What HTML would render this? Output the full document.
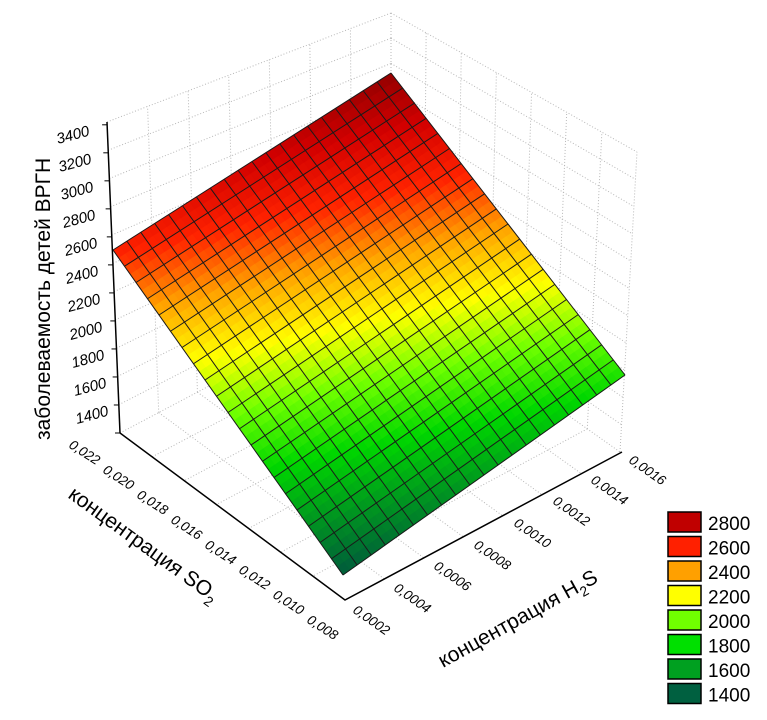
<!DOCTYPE html>
<html><head><meta charset="utf-8"><style>
body{margin:0;background:#fff;width:767px;height:720px;overflow:hidden}
svg{position:absolute;left:0;top:0}
text{font-family:"Liberation Sans",sans-serif;fill:#000}
</style></head><body>
<svg id="s" width="767" height="720" viewBox="0 0 767 720">
<g id="walls" stroke="#b8b8b8" stroke-width="1" stroke-dasharray="1,2" fill="none"></g>
<g id="surf"></g>
<g id="grid" stroke="#1a1a1a" stroke-width="1" fill="none"></g>
<g stroke="#000" stroke-width="1.5" fill="none">
<polyline points="107,122 120,433 345,600 622,452"/>
</g>
<g id="ticks" stroke="#000" stroke-width="1"></g>
<g font-size="15" font-style="italic">
<text transform="translate(58,144) rotate(-15)">3400</text>
<text transform="translate(60,172) rotate(-15)">3200</text>
<text transform="translate(62,200) rotate(-15)">3000</text>
<text transform="translate(64,228) rotate(-15)">2800</text>
<text transform="translate(66,256) rotate(-15)">2600</text>
<text transform="translate(67,284) rotate(-15)">2400</text>
<text transform="translate(69,312) rotate(-15)">2200</text>
<text transform="translate(71,340) rotate(-15)">2000</text>
<text transform="translate(73,368) rotate(-15)">1800</text>
<text transform="translate(75,396) rotate(-15)">1600</text>
<text transform="translate(77,424) rotate(-15)">1400</text>
</g>
<g font-size="13.5" font-style="italic">
<text transform="translate(68,447) rotate(33)">0,022</text>
<text transform="translate(102,472) rotate(33)">0,020</text>
<text transform="translate(136,497) rotate(33)">0,018</text>
<text transform="translate(170,522) rotate(33)">0,016</text>
<text transform="translate(204,547) rotate(33)">0,014</text>
<text transform="translate(238,572) rotate(33)">0,012</text>
<text transform="translate(272,597) rotate(33)">0,010</text>
<text transform="translate(306,622) rotate(33)">0,008</text>
</g>
<g font-size="13.5" font-style="italic">
<text transform="translate(352,612) rotate(35)">0,0002</text>
<text transform="translate(393,590) rotate(35)">0,0004</text>
<text transform="translate(433,568) rotate(35)">0,0006</text>
<text transform="translate(473,547) rotate(35)">0,0008</text>
<text transform="translate(513,525) rotate(35)">0,0010</text>
<text transform="translate(552,503) rotate(35)">0,0012</text>
<text transform="translate(590,482) rotate(35)">0,0014</text>
<text transform="translate(628,462) rotate(35)">0,0016</text>
</g>
<text font-size="21" transform="translate(50,440) rotate(-90)">заболеваемость детей ВРГН</text>
<text font-size="21" transform="translate(67,497) rotate(36)">концентрация SO<tspan font-size="14" dy="6">2</tspan></text>
<text font-size="21" transform="translate(443,668) rotate(-29)">концентрация H<tspan font-size="14" dy="6">2</tspan><tspan dy="-6">S</tspan></text>
<g id="legend" font-size="19"></g>
</svg>
<script>
var NS="http://www.w3.org/2000/svg";
function el(p,t,a){var e=document.createElementNS(NS,t);for(var k in a)e.setAttribute(k,a[k]);p.appendChild(e);return e;}
var L=[113,250],T=[391,73],B=[343,575],R=[625,375];
var VL=2620,VT=2980,VB=1400,VR=1850;
function P(u,v){return [L[0]*(1-u)*(1-v)+T[0]*u*(1-v)+B[0]*(1-u)*v+R[0]*u*v,
L[1]*(1-u)*(1-v)+T[1]*u*(1-v)+B[1]*(1-u)*v+R[1]*u*v];}
function V(u,v){return VL*(1-u)*(1-v)+VT*u*(1-v)+VB*(1-u)*v+VR*u*v;}
var stops=[[1400,[0,90,60]],[1600,[0,150,32]],[1800,[0,215,0]],[2000,[110,255,0]],[2200,[255,255,0]],[2400,[255,165,0]],[2600,[255,35,0]],[2800,[210,0,0]],[3000,[140,0,0]]];
function col(z){if(z<=stops[0][0])return stops[0][1];for(var i=1;i<stops.length;i++){if(z<=stops[i][0]){var a=stops[i-1],b=stops[i],t=(z-a[0])/(b[0]-a[0]);return [0,1,2].map(function(k){return Math.round(a[1][k]+(b[1][k]-a[1][k])*t)});}}return stops[stops.length-1][1];}
var surf=document.getElementById('surf'),N=40;
for(var i=0;i<N;i++)for(var j=0;j<N;j++){
 var u0=i/N,u1=(i+1)/N,v0=j/N,v1=(j+1)/N;
 var pts=[P(u0,v0),P(u1,v0),P(u1,v1),P(u0,v1)].map(function(p){return p[0].toFixed(1)+','+p[1].toFixed(1)}).join(' ');
 var c=col(V((u0+u1)/2,(v0+v1)/2));var cs='rgb('+c.join(',')+')';
 el(surf,'polygon',{points:pts,fill:cs,stroke:cs,'stroke-width':0.6});
}
var grid=document.getElementById('grid'),M=20;
for(var k=0;k<=M;k++){var a=P(k/M,0),b=P(k/M,1),c2=P(0,k/M),d=P(1,k/M);
 el(grid,'line',{x1:a[0],y1:a[1],x2:b[0],y2:b[1]});el(grid,'line',{x1:c2[0],y1:c2[1],x2:d[0],y2:d[1]});}
var W=document.getElementById('walls');
var A0=[120,433],A1=[107,122],C0=[391,290],C1=[391,13],D0=[620,452],D1=[637,152],F=[345,600];
function lerp(p,q,t){return [p[0]+(q[0]-p[0])*t,p[1]+(q[1]-p[1])*t];}
function ln(p,q){el(W,'line',{x1:p[0],y1:p[1],x2:q[0],y2:q[1]});}
for(var k=0;k<=11;k++){var t=k/11;ln(lerp(A0,A1,t),lerp(C0,C1,t));ln(lerp(C0,C1,t),lerp(D0,D1,t));}
for(var k=0;k<=7;k++){var t=k/7;ln(lerp(A0,C0,t),lerp(A1,C1,t));}
for(var k=0;k<=7;k++){var t=k/7;ln(lerp(C0,D0,t),lerp(C1,D1,t));}
for(var k=1;k<7;k++){var t=k/7;ln(lerp(A0,C0,t),lerp(F,D0,t));ln(lerp(C0,D0,t),lerp(A0,F,t));}
var TK=document.getElementById('ticks');
for(var k=0;k<=11;k++){var p=lerp(A0,A1,k/11.1);el(TK,'line',{x1:p[0],y1:p[1],x2:p[0]-5,y2:p[1]});}
var lg=document.getElementById('legend');
var lc=['#c00000','#ff2000','#ffa000','#ffff00','#70ff00','#00e000','#00a020','#006040'];
var lv=['2800','2600','2400','2200','2000','1800','1600','1400'];
for(var k=0;k<8;k++){var y=512+k*24.5;el(lg,'rect',{x:668,y:y,width:33,height:20,fill:lc[k],stroke:'#000','stroke-width':1.5});
 var t=el(lg,'text',{x:708,y:y+18});t.textContent=lv[k];}
</script>
</body></html>
